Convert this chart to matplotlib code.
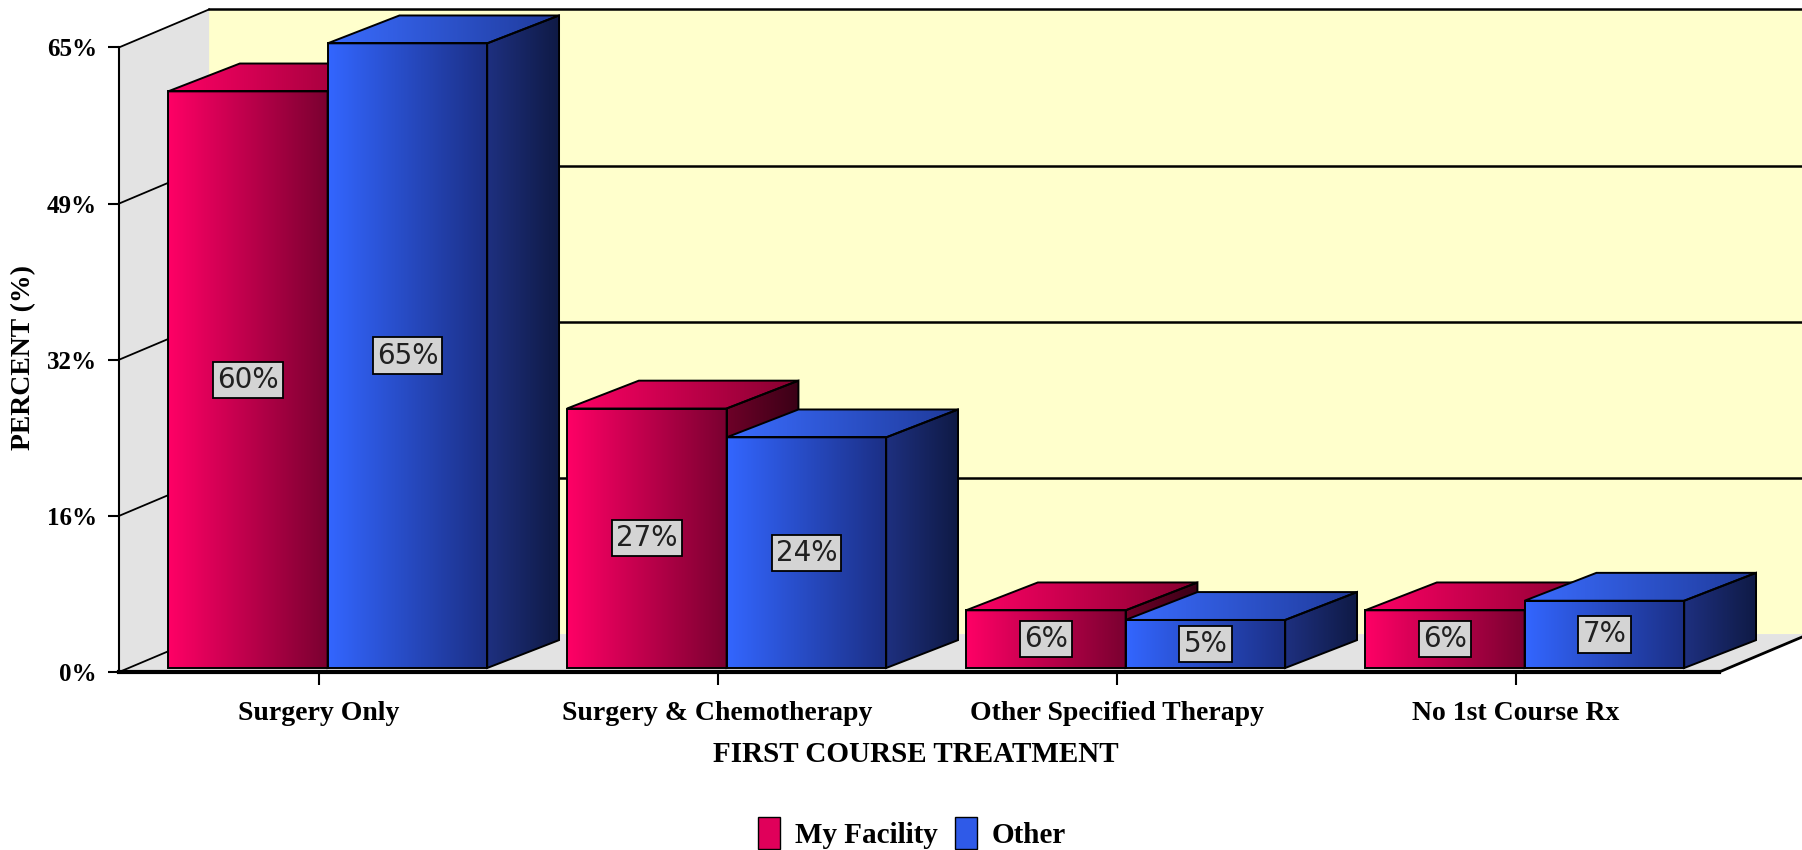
import matplotlib
matplotlib.use('Agg')
import matplotlib.pyplot as plt
import numpy as np
from matplotlib.patches import Polygon, Patch
from matplotlib.colors import LinearSegmentedColormap

# data
categories = ['Surgery Only', 'Surgery & Chemotherapy', 'Other Specified Therapy', 'No 1st Course Rx']
series_names = ['My Facility', 'Other']
my_facility = [60, 27, 6, 6]
other = [65, 24, 5, 7]
y_ticks = [0, 16.25, 32.5, 48.75, 65]
y_tick_labels = ['0%', '16%', '32%', '49%', '65%']

# 3d look (offsets in data units)
bar_w = 0.4
wall_dx, wall_dy = 0.2256, 3.95
bar_dx, bar_dy = 0.18, 2.9
set_dx, set_dy = 0.0226, 0.42
x_left, x_right = -0.5, 3.51
y_top = 65

red = {'front': ('#ff0066', '#7a0030'), 'side': ('#6e0028', '#3a0016'), 'top': ('#ff0066', '#85002f')}
blue = {'front': ('#3366ff', '#1b2f85'), 'side': ('#1e3080', '#0f1a45'), 'top': ('#3a6cff', '#1f3a9a')}

serif = {'family': 'Liberation Serif', 'weight': 'bold'}


def grad_face(ax, verts, c1, c2, z):
    poly = Polygon(verts, closed=True, facecolor='none', edgecolor='black', lw=1.4, zorder=z + 0.1)
    ax.add_patch(poly)
    xs = [v[0] for v in verts]
    ys = [v[1] for v in verts]
    cmap = LinearSegmentedColormap.from_list('g', [c1, c2])
    im = ax.imshow(np.linspace(0, 1, 256).reshape(1, -1), cmap=cmap, aspect='auto',
                   extent=[min(xs), max(xs), min(ys), max(ys)], zorder=z, interpolation='bilinear')
    im.set_clip_path(poly)


def draw_box(ax, x0, h, cols, z):
    y0 = set_dy
    x1 = x0 + bar_w
    y1 = y0 + h
    grad_face(ax, [(x0, y0), (x1, y0), (x1, y1), (x0, y1)], cols['front'][0], cols['front'][1], z)
    grad_face(ax, [(x0, y1), (x1, y1), (x1 + bar_dx, y1 + bar_dy), (x0 + bar_dx, y1 + bar_dy)],
              cols['top'][0], cols['top'][1], z)
    grad_face(ax, [(x1, y0), (x1 + bar_dx, y0 + bar_dy), (x1 + bar_dx, y1 + bar_dy), (x1, y1)],
              cols['side'][0], cols['side'][1], z)


fig = plt.figure(figsize=(18.02, 8.5), dpi=100)
ax = fig.add_axes([0, 0, 1, 1])

# walls and floor
ax.add_patch(Polygon([(x_left + wall_dx, wall_dy), (4.2, wall_dy), (4.2, y_top + wall_dy),
                      (x_left + wall_dx, y_top + wall_dy)], facecolor='#ffffcc', edgecolor='none', zorder=0))
ax.add_patch(Polygon([(x_left, 0), (x_left, y_top), (x_left + wall_dx, y_top + wall_dy),
                      (x_left + wall_dx, wall_dy)], facecolor='#e3e3e3', edgecolor='none', zorder=0))
ax.add_patch(Polygon([(x_left, 0), (x_right, 0), (x_right + wall_dx, wall_dy),
                      (x_left + wall_dx, wall_dy)], facecolor='#e3e3e3', edgecolor='none', zorder=0))
ax.plot([x_right, x_right + wall_dx], [0, wall_dy], color='black', lw=2, zorder=1)

for t in y_ticks:
    ax.plot([x_left, x_left + wall_dx], [t, t + wall_dy], color='black', lw=1.3, zorder=1)
    if t > 0:
        ax.plot([x_left + wall_dx, 4.2], [t + wall_dy, t + wall_dy], color='black', lw=1.8, zorder=1)

# bars
z = 2
for i in range(len(categories)):
    xr = i + set_dx - bar_w
    xb = i + set_dx
    draw_box(ax, xr, my_facility[i], red, z)
    draw_box(ax, xb, other[i], blue, z + 1)
    z += 2
    for xx, v in [(xr, my_facility[i]), (xb, other[i])]:
        ax.text(xx + bar_w / 2, set_dy + v / 2, '%d%%' % v, ha='center', va='center',
                fontsize=20, color='#202020', family='DejaVu Sans', zorder=40,
                bbox=dict(boxstyle='square,pad=0.15', facecolor='#d4d4d4', edgecolor='black', lw=1.3))

ax.set_xlim(-0.7985, 3.7178)
ax.set_ylim(-18.52, 69.93)

# axes lines, ticks
for s in ['top', 'right']:
    ax.spines[s].set_visible(False)
ax.spines['left'].set_position(('data', x_left))
ax.spines['left'].set_bounds(0, y_top)
ax.spines['left'].set_linewidth(1.5)
ax.spines['bottom'].set_position(('data', 0))
ax.spines['bottom'].set_bounds(x_left, x_right)
ax.spines['bottom'].set_linewidth(3)
ax.spines['bottom'].set_zorder(30)
ax.set_yticks(y_ticks, y_tick_labels, **serif, fontsize=18)
ax.set_xticks(range(len(categories)), categories, **serif, fontsize=20)
ax.tick_params(axis='y', length=8, width=1.5, pad=8)
ax.tick_params(axis='x', length=9, width=1.5, pad=12)

fig.text(0.508, 0.112, 'FIRST COURSE TREATMENT', ha='center', va='center', fontsize=21, **serif)
fig.text(0.013, 0.58, 'PERCENT (%)', ha='center', va='center', rotation=90, fontsize=20, **serif)

handles = [Patch(facecolor='#e0005a', edgecolor='black'), Patch(facecolor='#2f5ae8', edgecolor='black')]
fig.legend(handles, series_names, loc='lower center', bbox_to_anchor=(0.506, -0.03), ncol=2,
           frameon=False, handlelength=0.75, handleheight=1.3, handletextpad=0.5, columnspacing=0.6,
           prop={'family': 'Liberation Serif', 'weight': 'bold', 'size': 21})

fig.savefig('out.png', dpi=100)
